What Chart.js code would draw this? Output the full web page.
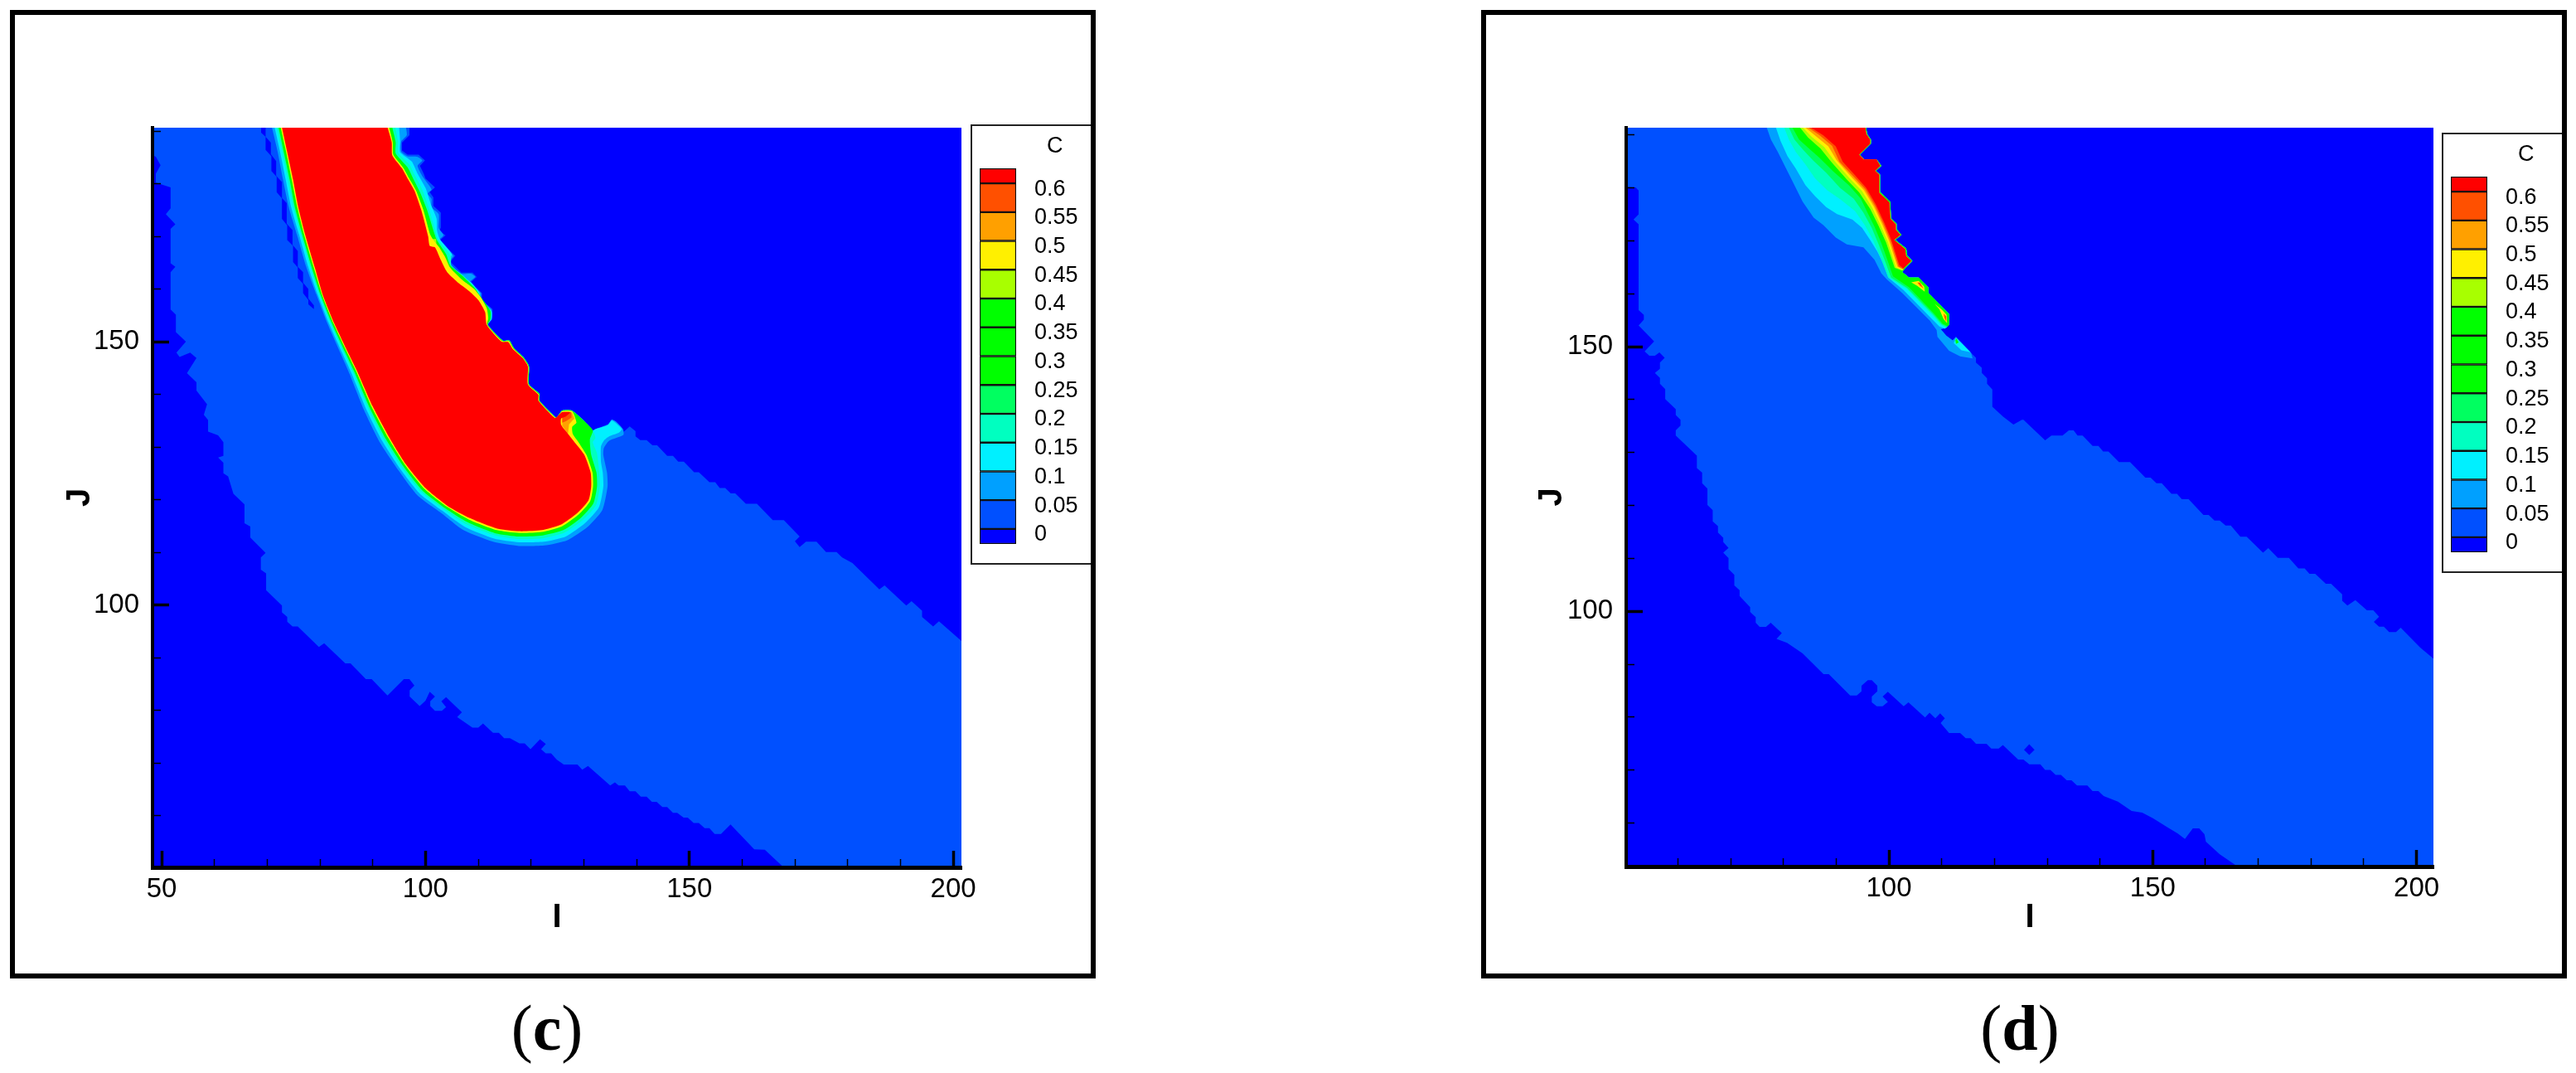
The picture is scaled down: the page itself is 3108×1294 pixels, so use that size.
<!DOCTYPE html>
<html lang="en">

<head>
    <meta charset="UTF-8">
    <title>Contours of C</title>
    <script src="https://cdn.jsdelivr.net/npm/chart.js@4/dist/chart.umd.min.js"></script>
    <style>
        body { margin: 0; background: #fff; width: 3108px; height: 1294px; position: relative; overflow: hidden; }
        canvas { position: absolute; left: 0; top: 0; }
        .frame { position: absolute; top: 12px; width: 1310px; height: 1168px; box-sizing: border-box; border: 6px solid #000; }
        .legendBox { position: absolute; width: 150px; height: 531px; box-sizing: border-box; border: 2px solid #222; background: #fff; }
        .legendName { position: absolute; left: 90px; top: 8px; font: 27px "Liberation Sans"; }
        .caption { position: absolute; top: 1195px; width: 200px; text-align: center; font: 78px "Liberation Serif"; }
    </style>
</head>

<body>
    <canvas id="plotC" width="1200" height="1200"></canvas>
    <canvas id="plotD" width="1200" height="1200" style="left:1776px"></canvas>
    <div class="legendBox" style="left:1171px;top:150px"><canvas id="legendC" width="146" height="527"></canvas><div class="legendName">C</div></div>
    <div class="legendBox" style="left:2946px;top:160px"><canvas id="legendD" width="146" height="527"></canvas><div class="legendName">C</div></div>
    <div class="frame" style="left:12px"></div>
    <div class="frame" style="left:1787px"></div>
    <div class="caption" style="left:560px">(<b>c</b>)</div>
    <div class="caption" style="left:2337px">(<b>d</b>)</div>

    <script>
        // colour key
        const levelTicks = [0, 0.05, 0.1, 0.15, 0.2, 0.25, 0.3, 0.35, 0.4, 0.45, 0.5, 0.55, 0.6]
        const bandEdges = [-0.026, 0, 0.05, 0.1, 0.15, 0.2, 0.25, 0.3, 0.35, 0.4, 0.45, 0.5, 0.55, 0.6, 0.626]
        const bandColors = ['#0000ff', '#0050ff', '#00a0ff', '#00f0ff', '#00ffc0', '#00ff60', '#00ff00', '#00ff00', '#00ff00', '#a8ff00', '#fff000', '#ffa000', '#ff5000', '#ff0000']

        // axis ticks
        const iMajorC = [50, 100, 150, 200]
        const iMajorD = [100, 150, 200]
        const iMinor = [60, 70, 80, 90, 110, 120, 130, 140, 160, 170, 180, 190]
        const jMajor = [100, 150]
        const jMinor = [60, 70, 80, 90, 110, 120, 130, 140, 160, 170, 180, 190]

        // panel (c), contour outlines as [I, J]
        const cStep = [[131.7, 133.15], [129.6, 135.35], [127.75, 136.9], [125.9, 136.9], [125.1, 135.9], [124.7, 135.6], [121.6, 138.8], [121.6, 140.1], [119.6, 141.9], [119.6, 145.3], [118.6, 147], [116.75, 148.8], [115.9, 150.2], [114.65, 150.2], [111.8, 153.2]]
        const c00 = [[40, 40], [210, 40], [210, 200], [40, 200]]
        const c05 = [[48, 190.7], [48, 185.5], [48.9, 185.1], [49.8, 183.5], [48.9, 181.9], [48.9, 180.2], [51.7, 179.3], [51.7, 175.3], [50.8, 174.2], [52.6, 172.3], [51.7, 171.4], [51.7, 164.9], [52.6, 164.2], [51.7, 163.2], [51.7, 156.1], [52.7, 155.1], [52.7, 151.8], [54.6, 150], [52.8, 147.9], [53.4, 147.1], [55.4, 147.9], [56.6, 146.9], [54.8, 144], [56.6, 142.3], [56.6, 140.7], [58.6, 138.1], [58, 136.1], [58.8, 135.1], [58.8, 132.9], [60.7, 132.2], [61.7, 130.9], [61.7, 128.3], [60.7, 128], [61.7, 127], [61.7, 125], [62.6, 124.4], [63.6, 121.1], [65.7, 119.1], [65.7, 115.5], [66.8, 114.9], [66.8, 112.8],
            [69.7, 109.9], [68.8, 109], [68.8, 106.7], [69.8, 106], [69.8, 102.8], [72.8, 99.9], [72.8, 98.6], [73.8, 97.7], [73.8, 96.8], [74.8, 95.9], [75.8, 95.9], [79.8, 92], [80.8, 92.7], [84.8, 88.9], [85.8, 88.9], [88.7, 85.9], [89.8, 85.9], [92.8, 82.8], [95.9, 85.9], [96.96, 85.9], [97.9, 84.7], [97, 83.8], [97, 82.6], [98.9, 80.8], [100, 81.8], [100.8, 83.5], [101.8, 82.6], [100.9, 81.7], [100.9, 80.8], [101.8, 79.9], [103.1, 79.9], [103.9, 80.6], [103, 81.7], [103.9, 82.5], [106.9, 79.6], [106, 78.7], [108.9, 76.7], [110, 76.7], [110.9, 77.5], [112.8, 75.7], [113.9, 75.7], [114.9, 74.7], [116, 74.7], [117.8, 73.7], [118.8, 73.7], [119.9, 72.6], [121.7, 74.5], [122.8, 73.6], [121.9, 72.6], [122.8, 71.8], [123.8, 71.8], [124.9, 70.6], [126.2, 69.7],
            [128.8, 69.7], [129.7, 68.7], [130.8, 69.4], [135, 65.7], [135.9, 66.3], [136.6, 65.7], [137.8, 65.7], [138.7, 64.6], [139.8, 64.6], [140.8, 63.6], [141.9, 63.6], [142.9, 62.6], [143.8, 62.6], [144.9, 61.6], [145.8, 61.6], [146.9, 60.5], [147.7, 60.5], [148.9, 59.6], [149.7, 59.6], [150.8, 58.6], [151.8, 58.6], [152.9, 57.6], [153.8, 57.6], [154.8, 56.5], [156, 56.5], [157.8, 58.3], [162.3, 53.6], [164.3, 53.5], [167.7, 50.3], [168, 49], [205, 49], [205, 90],
            [201.6, 93.1], [197.3, 96.9], [196.2, 95.9], [194.1, 97.7], [194.1, 98.9], [192.1, 100.7], [191.1, 99.9], [187, 103.7], [186, 102.96], [180.9, 107.95], [178.95, 109], [177.9, 110.05], [175.9, 110.05], [174.1, 112], [172.1, 112], [170.9, 111], [170, 112.1], [170.9, 113], [167.9, 116.1], [165.8, 116.1], [162.8, 119.2], [160.7, 119.2], [158.7, 121.2], [157.85, 121.2], [156.8, 122.2], [155.75, 122.2], [154.9, 123.3], [153.8, 123.3], [151.8, 125.2], [150.9, 125.2], [148.95, 127.2], [147.9, 127.2], [146.9, 128.3], [145.8, 128.3], [143.9, 130.3], [143, 130.3], [141.9, 131.3], [140.7, 131.3], [139.8, 132], [139.8, 133], [138.7, 133.9], [137.6, 132.9], [137.5, 133.3], [136.1, 134.8], [135.3, 135.2], [134.6, 134.3], [132.5, 133.5],
            ...cStep,
            [112.7, 154.3], [112.7, 156.2], [110.7, 157.9], [110.7, 159.2], [108.6, 161.3], [109.7, 162.3], [108.9, 163.1], [106.8, 163.1], [104.7, 165.2], [105.65, 166.3], [102.7, 169.2], [103.8, 170.2], [102.6, 171.05], [102.9, 171.6], [102.9, 174.5], [101.5, 175.8], [101.5, 177.4], [100.8, 178.4], [101.8, 179.3], [100, 181], [99.7, 181.8], [98.95, 183.4], [99.9, 184.4], [98.7, 185.5], [96.6, 185.5], [95.55, 186.3], [95.55, 187.8], [96.96, 189.2], [96.96, 190.7]]
        const cStrip = [[68.85, 190.7], [68.85, 189.7], [69.7, 188.9], [69.7, 186.4], [70.8, 185.2], [70.8, 182.4], [71.8, 181.3], [71.8, 178.4], [72.8, 177.2], [72.8, 173.3], [73.8, 172.1], [73.8, 169.3], [74.9, 168.2], [74.9, 165.1], [75.8, 164.1], [75.8, 162.1], [76.8, 161], [76.8, 159.2], [77.8, 157.9], [77.8, 157.1], [78.85, 156.2], [78.85, 156.9], [77.8, 158.2], [77.8, 160], [76.8, 161.2], [76.8, 163.2], [75.8, 164.2], [75.8, 167.2], [74.8, 168.4], [74.8, 171.2], [73.7, 172.4], [73.7, 176.3], [72.8, 177.3], [72.8, 180.3], [71.7, 181.5], [71.7, 184.3], [70.7, 185.6], [70.7, 187.8], [69.7, 188.9], [69.7, 190.7]]
        const c10 = [[70.9, 190.7], [72, 186], [73, 180.8], [74.1, 175.5], [75.65, 170.3], [77.4, 164.2], [79.3, 159], [81.4, 153.5], [83.9, 147.8], [85.6, 143.9], [88.4, 136.9], [91.4, 130.8], [95, 125.4], [98.5, 120.8], [102.8, 117.6], [107.2, 114.2], [112.8, 112], [117.7, 111.2], [122.5, 111.3], [126.9, 112.3], [130.7, 114.8], [133.5, 118], [134.5, 122.5], [134.4, 125.1], [133.7, 128.5], [133.8, 129.8], [134.8, 131.2], [137.5, 132.3], [137.4, 133.4], [136.1, 134.8], [135.3, 135.2], [134.6, 134.3], [132.5, 133.5],
            ...cStep,
            [112.5, 154.25], [112.5, 156.1], [110.5, 157.9], [110.5, 159.2], [108.4, 161.3], [109.4, 162.3], [108.6, 162.9], [106.7, 162.9], [104.45, 165.2], [105.3, 166.3], [102.5, 169.2], [103.4, 170.2], [102.5, 171.6], [102.5, 174.2], [101.15, 175.5], [101.15, 177.1], [100.4, 178.1], [101.15, 178.9], [99.5, 181.3], [98.5, 183.4], [99.4, 184.4], [98.4, 185.1], [96.6, 185.2], [95.4, 186.1], [95.4, 188], [96.45, 189.2], [96.3, 190.7]]
        const c15 = [[71.4, 190.7], [72.45, 186], [73.5, 180.8], [74.55, 175.5], [76.05, 170.3], [77.8, 164.15], [79.6, 158.9], [81.7, 153.5], [84.2, 147.9], [85.95, 144.05], [88.8, 137.1], [91.85, 131.05], [95.3, 125.7], [98.9, 121.15], [103.15, 117.9], [107.5, 114.8], [113, 112.6], [117.7, 111.9], [122.4, 112], [126.6, 113], [130.2, 115.5], [132.85, 118.5], [133.7, 122.5], [133.6, 125.1], [133.25, 127.2], [133.25, 130.1], [133.8, 131.2], [134.8, 132], [136.65, 132.7], [137.2, 133.4], [136.1, 134.5], [135.3, 135], [134.55, 134.15], [132.2, 133.4],
            ...cStep,
            [112.5, 154.25], [112.5, 155.8], [110.5, 157.7], [110.2, 159.3], [108.6, 161.3], [106.8, 162.65], [104.3, 165], [105, 166.6], [102.7, 169.5], [102.2, 171.05], [102.1, 173.4], [101.05, 176], [100, 179.2], [98.4, 182.1], [97.4, 184.2], [95.2, 186], [95.2, 188.1], [95, 190.7]]
        const c20 = [[71.8, 190.7], [72.85, 186], [73.9, 180.8], [74.95, 175.5], [76.4, 170.3], [78.2, 164.1], [79.9, 158.85], [82, 153.5], [84.5, 148], [86.25, 144.2], [89.15, 137.3], [92.25, 131.2], [95.6, 126], [99.2, 121.45], [103.45, 118.15], [107.75, 115.3], [113.2, 113.2], [117.75, 112.5], [122.25, 112.65], [126.3, 113.7], [129.8, 116.1], [132.3, 118.9], [133.05, 122.5], [132.95, 125.1], [132.5, 128.8], [131.7, 130.9], [132.2, 131.7],
            ...cStep,
            [112.4, 154.25], [112.4, 155.8], [110.6, 158], [109.6, 160], [107.3, 162.4], [104.9, 164.4], [104.8, 166.3], [102.45, 169.3], [101.9, 171], [101.2, 173.4], [100.6, 175.5], [99.4, 178.9], [98, 181.6], [97, 183.6], [94.8, 185.9], [94.8, 188], [94.3, 190.7]]
        const c30 = [[72.15, 190.7], [73.15, 186], [74.25, 180.8], [75.25, 175.5], [76.65, 170.3], [78.45, 164.05], [80.15, 158.8], [82.25, 153.5], [84.75, 148.05], [86.5, 144.3], [89.45, 137.4], [92.55, 131.4], [95.85, 126.25], [99.45, 121.7], [103.7, 118.4], [108, 115.7], [113.3, 113.6], [117.75, 113], [122.2, 113.2], [126.1, 114.2], [129.45, 116.55], [131.8, 119.25], [132.5, 122.5], [132.4, 125.1], [131.4, 128.5], [131.15, 131.4],
            ...cStep,
            [112.3, 154.25], [112.3, 155.8], [110.7, 158.2], [109.2, 160.3], [106.8, 162.65], [104.7, 164.5], [103.9, 166.6], [102.2, 169.2], [101.6, 170.8], [100.3, 175], [98.95, 178.4], [97.65, 181], [96.6, 183.1], [94.35, 185.75], [94.35, 187.85], [93.7, 190.7]]
        const c45 = [[100.8, 169.5], [102, 169.5], [102.1, 168], [100.8, 168]]
        const c50 = [[72.55, 190.7], [73.6, 186], [74.65, 180.8], [75.7, 175.5], [77, 170.3], [78.85, 164], [80.45, 158.75], [82.55, 153.5], [85.05, 148.15], [86.85, 144.4], [89.8, 137.6], [93, 131.6], [96.15, 126.55], [99.8, 122.05], [104.05, 118.65], [108.25, 116.2], [113.5, 114.2], [117.8, 113.65], [122.05, 113.85], [125.8, 114.9], [129.05, 117.2], [131.2, 119.7], [131.75, 122.5], [131.65, 125.1], [130.5, 128.5], [128.8, 131.2], [127.9, 132.5], [127.8, 133.8], [128.6, 134.6], [128.2, 136], [127.75, 136.8], [125.9, 136.8], [125.1, 135.8], [124.7, 135.5], [121.5, 138.8], [121.5, 140], [119.5, 141.9], [119.5, 145.3], [118.5, 146.9], [116.65, 148.7], [115.8, 150.1], [114.55, 150.1], [111.7, 153.2], [111.9, 154.5], [111.6, 156.35], [110.5, 158.4], [109.2, 160], [107.1, 161.6], [104.7, 164], [103.7, 166.1], [102.6, 167.9], [101.7, 169], [100.9, 170.3], [99.6, 175], [98.2, 178.7], [96.85, 181.1], [95.8, 183], [93.9, 185.5], [93.8, 187.85], [93.1, 190.7]]
        const c55 = [[126, 136.5], [127.75, 136.5], [128.2, 135.4], [127.2, 134.3], [127, 132.5], [125.9, 134]]
        const c60 = [[125.9, 136.6], [127.6, 136.6], [127.7, 135.6], [126.6, 134.9], [125.9, 134.6]]
        const cRed = [[72.8, 190.7], [73.8, 186], [74.9, 180.8], [75.9, 175.5], [77.2, 170.3], [79.05, 164], [80.6, 158.7], [82.7, 153.5], [85.2, 148.2], [87, 144.5], [90, 137.7], [93.2, 131.7], [96.3, 126.7], [100, 122.2], [104.2, 118.8], [108.4, 116.5], [113.6, 114.5], [117.8, 114], [122, 114.2], [125.65, 115.25], [128.8, 117.5], [130.9, 119.9], [131.4, 122.5], [131.3, 125.1], [130.1, 128.5], [128.5, 130.6], [127, 132.5], [125.7, 134.2], [125.7, 135.4], [126.6, 135.8], [127.4, 136.6], [125.9, 136.6], [125, 135.8], [124.5, 135.5], [121.4, 138.8], [121.4, 139.9], [119.4, 141.9], [119.4, 145.3], [118.4, 146.9], [116.55, 148.6], [115.7, 149.9], [114.4, 150], [111.6, 153.2], [111.3, 155.6], [110, 157.9], [108.4, 159.5], [106.3, 161.1], [104.1, 163.2], [102.9, 165.5], [101.8, 167.9], [100.8, 168.2], [100.5, 170], [99.2, 175], [97.9, 178.7], [96.6, 181], [95.55, 182.9], [93.7, 185.4], [93.6, 187.85], [92.8, 190.7]]

        // panel (d), contour outlines as [I, J]
        const dEdge = [[111.4, 154.18], [111.4, 156.16], [107.47, 160.17], [107.47, 161.22], [105.64, 163.04], [103.81, 163.04], [102.5, 164.09], [103.13, 164.87], [104.44, 166.17], [103.44, 167.22], [103.28, 168.52], [101.19, 170.19], [102.39, 171.13], [101.45, 172.17], [101.45, 173.22], [100.4, 174.26], [100.25, 177.39], [98.31, 179.21], [98.31, 182.5], [97.52, 183.23], [98.57, 184.17], [97.79, 185.21], [95.43, 185.21], [94.49, 186.26], [96.58, 188.34], [96.58, 189.13], [95.85, 190.17], [95.69, 191.4]]
        const dWedge = [[115.59, 148.8], [113.49, 151.04], [112.71, 151.83], [112.08, 151.2], [110.87, 152.09], [109.83, 153.29], [110.62, 153.5]]
        const dRedRight = [[102.76, 164.76], [103.02, 165.03], [104.23, 166.17], [103.23, 167.11], [103.07, 168.42], [100.98, 170.19], [102.18, 171.13], [101.3, 172.07], [101.3, 173.11], [100.25, 174.15], [100.09, 177.23], [98.15, 179.06], [98.15, 182.5], [97.37, 183.23], [98.36, 184.17], [97.63, 185.37], [95.27, 185.37], [94.33, 186.26], [96.42, 188.34], [96.42, 189.13], [95.69, 190.17], [95.53, 191.4]]
        const d00 = [[40, 40], [210, 40], [210, 200], [40, 200]]
        const d05 = [[49, 191.4], [49, 180.2], [51.98, 180.1], [52.56, 179.5], [52.56, 175], [51.6, 174], [52.56, 173.1], [52.56, 156.9], [53.55, 156], [53.55, 155.1], [52.56, 154], [55.5, 151], [53.7, 149.1], [54.6, 148.3], [55.65, 148.3], [56.5, 148.9], [57.5, 147.9], [56.6, 147], [56.6, 145.8], [55.65, 145.05], [56.6, 144.1], [56.6, 143], [57.6, 142], [57.6, 140.1], [59.6, 138.2], [59.6, 137.1], [60.5, 136.2], [60.5, 135.1], [59.6, 134.2], [59.6, 133.2], [63.6, 129.4], [63.6, 127.05], [64.6, 126.2], [64.6, 124.2], [65.6, 123.2], [65.6, 120.1], [66.6, 119.1], [66.6, 117],
            [67.6, 116.1], [67.6, 114.9], [68.6, 113.9], [68.6, 113.1], [69.6, 112], [68.6, 111.1], [69.6, 110.06], [69.6, 108], [70.7, 106.9], [70.7, 104.9], [71.7, 104], [71.7, 102.9], [73.7, 100.8], [73.7, 99.9], [74.75, 98.9], [74.75, 97.85], [75.5, 97.07], [76.7, 97.07], [77.6, 97.85], [79.7, 95.9], [78.7, 94.8], [80.7, 94.05], [83.65, 92.06], [87.6, 88.15], [88.6, 88.15], [92.65, 84.1], [93.9, 84.1], [94.8, 84.9], [94.8, 85.96], [96, 87], [96.75, 87], [97.8, 85.96], [97.8, 84.9], [96.75, 83.9], [96.75, 82.8], [97.7, 82.05], [98.8, 82.05], [99.8, 82.9], [98.8, 83.9], [99.8, 84.8], [102.8, 82.05], [103.7, 82.8], [106.85, 79.96], [107.7, 80.85], [108.8, 79.8], [109.7, 80.75], [110.6, 79.8], [109.8, 78.9], [111.4, 77], [113.5, 77], [114.55, 76.05], [115.5, 76.05], [116.5, 75], [118.5, 75], [119.4, 74.1], [120.8, 74.1], [121.6, 74.75],
            [124.5, 72], [125.5, 72], [126.6, 71.1], [128.7, 71.1], [129.6, 70.06], [130.6, 70.06], [131.6, 69.1], [132.6, 69.1], [133.7, 68.1], [134.6, 68.1], [135.65, 67.1], [137.6, 67.1], [138.6, 66.05], [139.7, 66.05], [140.7, 65.1], [143.4, 64.05], [146, 62.3], [148, 62], [150.1, 60.9], [152.8, 59.2], [154.7, 58.06], [156.1, 57], [157.6, 59], [158.8, 59], [159.8, 57.9], [160.07, 56.5], [162.7, 54.1], [165.8, 52], [166.5, 51], [205, 51], [205, 90],
            [203.3, 91], [200.7, 93.17], [197, 96.9], [196.1, 96.1], [194.8, 96.1], [193.8, 97.1], [192.9, 97.1], [191.9, 98], [192.9, 99], [191.8, 100.2], [190.6, 100.2], [188.4, 102.1], [186.9, 101.1], [185.9, 102], [185.9, 103.2], [183.8, 105.2], [182.8, 105.2], [180.8, 107.1], [179.7, 107.1], [178.8, 108.1], [177.6, 108.1], [175.8, 110.1], [173.7, 110.1], [171.9, 111.95], [170.9, 111.1], [167.8, 114.1], [166.6, 114.1], [164.8, 116.2], [163.8, 116.2], [162.7, 117.15], [161.7, 117.15], [160.6, 118.2], [159.6, 118.2], [156.8, 121.2], [155.5, 121.2], [154.6, 122.2], [153.55, 122.2], [151.7, 124.2], [150.7, 124.2], [149.6, 125.25], [148.6, 125.25], [145.7, 128.2], [143.6, 128.2], [141.6, 130.2], [140.6, 130.2], [139.7, 131.25], [138.6, 131.25], [136.7, 133.2], [135.75, 133.2], [135, 134.2], [134.1, 134.2], [132.9, 133.2], [130.8, 133.2], [129.6, 132.3], [125.5, 136.2], [125.2, 136.2], [123.6, 135.3], [121.6, 136.8], [119.6, 138.65], [119.6, 141.9], [118.6, 143], [118.6, 144], [117.6, 145.05], [117.6, 146], [116.5, 147], [116.5, 147.9],
            ...dWedge, ...dEdge]
        const dDiamond = [[125.6, 73.85], [126.6, 74.9], [127.6, 73.85], [126.6, 72.85]]
        const d10 = [[76.84, 191.4], [77.63, 189.13], [78.94, 186.78], [80.51, 183.65], [81.56, 181.56], [83.65, 177.39], [85.74, 174.36], [87.58, 172.96], [89.93, 170.61], [92.03, 169.3], [95.17, 168.78], [97.26, 166.43], [98.57, 163.83], [99.62, 162.68], [102.5, 160.17], [107.73, 154.96], [109.04, 153.13], [109.2, 151.83], [111.4, 149.22], [113.5, 148.17], [115.85, 147.76], ...dWedge, ...dEdge]
        const d15 = [[78.57, 191.4], [79.46, 188.87], [80.77, 186], [82.34, 183.65], [84.17, 180.52], [85.99, 178.43], [88.1, 176.35], [90.19, 175.04], [93.07, 174], [94.91, 172.43], [96.48, 170.09], [97.79, 168], [99.1, 165.39], [99.88, 163.04], [102.76, 160.7], [108, 155.38], [109.57, 153.81], [110.62, 153.39], ...dEdge]
        const dBlobCyan = [[112.29, 150.68], [112.71, 151.67], [115.48, 148.96], [113.76, 149.32]]
        const dBlobGreen = [[112.6, 151.2], [112.81, 151.52], [113.23, 150.78], [112.71, 150.52]]
        const d20 = [[80.14, 191.4], [81.03, 189.13], [82.34, 186.78], [84.17, 184.43], [85.99, 181.82], [88.36, 179.48], [90.82, 177.81], [93.6, 175.56], [95.43, 172.95], [97, 170.09], [98.57, 166.43], [99.88, 163.04], [103.28, 160.96], [108.26, 155.9], [109.83, 154.12], [110.88, 153.55], ...dEdge]
        const d25 = [[81.03, 191.4], [82.08, 189.13], [83.65, 187.3], [85.59, 185.21], [88.1, 182.87], [90.72, 180], [93.34, 177.91], [95.17, 175.3], [96.74, 172.43], [98.05, 169.3], [99.36, 165.91], [100.4, 163.04], [103.44, 161.11], [108.36, 156.1], [109.99, 154.23], [111.03, 153.71], ...dEdge]
        const d30 = [[81.71, 191.4], [82.97, 189.13], [84.7, 187.56], [86.79, 185.73], [89.41, 183.13], [92.39, 180.52], [94.64, 178.01], [95.95, 175.3], [97.26, 172.69], [98.57, 169.56], [99.88, 165.91], [100.77, 163.3], [103.81, 161.22], [108.52, 156.26], [110.2, 154.33], [111.14, 153.9], ...dEdge]
        const d45 = [[83.13, 191.4], [84.7, 189.49], [87.05, 187.4], [89.04, 184.95], [92.03, 181.56], [94.38, 179.11], [96.48, 175.98], [98.05, 172.8], [99.46, 169.67], [101.09, 164.87], [102.55, 164.35], ...dRedRight]
        const d50 = [[83.65, 191.4], [85.38, 189.65], [87.73, 187.72], [89.57, 185.21], [92.55, 181.82], [94.91, 179.37], [96.84, 176.24], [98.41, 172.95], [99.78, 169.82], [101.35, 164.97], [102.66, 164.45], ...dRedRight]
        const d55 = [[84.17, 191.4], [86.11, 189.8], [88.52, 187.82], [90.09, 185.21], [92.97, 181.98], [95.27, 179.58], [97.16, 176.45], [98.73, 173.11], [100.04, 169.98], [101.61, 165.13], [102.76, 164.56], ...dRedRight]
        const d60 = [[84.7, 191.4], [86.79, 190], [89.25, 187.93], [90.61, 184.95], [93.34, 182.08], [95.53, 179.74], [97.37, 176.6], [98.94, 173.22], [100.25, 170.08], [101.82, 165.13], [102.76, 164.6], ...dRedRight]
        const dRed = [[85.22, 191.4], [87.58, 189.91], [89.93, 187.82], [91.24, 184.95], [93.6, 182.34], [95.69, 180], [97.52, 176.87], [99.1, 173.48], [100.4, 170.35], [101.97, 165.39], ...dRedRight]
        const dTail50a = [[104.23, 162.16], [105.64, 162.42], [106.69, 161.32], [106.79, 160.38], [105.38, 161.48]]
        const dTail50b = [[108.68, 158.09], [110.09, 156.94], [110.93, 156], [111.03, 154.44], [110.35, 155.22], [109.57, 157.04]]
        const dTail60a = [[105.38, 162.1], [105.9, 162.1], [106.58, 160.96], [105.9, 161.48]]
        const dTail60b = [[110.35, 156.26], [110.87, 155.74], [110.87, 154.7], [110.51, 155.48]]

        const layersC = [[c00, '#0000ff'], [c05, '#0050ff'], [cStrip, '#0000ff'], [c10, '#00a0ff'], [c15, '#00f0ff'], [c20, '#00ffc0'], [c30, '#00ff00'], [c45, '#a8ff00'], [c50, '#fff000'], [c55, '#ffa000'], [c60, '#ff5000'], [cRed, '#ff0000']]
        const layersD = [[d00, '#0000ff'], [d05, '#0050ff'], [dDiamond, '#0000ff'], [d10, '#00a0ff'], [d15, '#00f0ff'], [dBlobCyan, '#00f0ff'], [dBlobGreen, '#00ff00'], [d20, '#00ffc0'], [d25, '#00ff60'], [d30, '#00ff00'], [d45, '#a8ff00'], [d50, '#fff000'], [d55, '#ffa000'], [d60, '#ff5000'], [dRed, '#ff0000'], [dTail50a, '#fff000'], [dTail50b, '#fff000'], [dTail60a, '#ff5000'], [dTail60b, '#ff5000']]
        // the plume in (c) has a smooth outline, the rest keeps its grid corners
        const smoothOutlines = [c10, c15, c20, c30, c50, cRed]

        const sans = 'Liberation Sans'

        function tickList(list) {
            return scale => { scale.ticks = list.map(value => ({ value })) }
        }

        function plot(id, layers, cfg) {
            // first dataset is painted last, so lowest contour gets the highest order
            const datasets = layers.map(([pts, color], i) => ({
                type: 'scatter',
                showLine: true,
                fill: 'shape',
                data: pts.map(([x, y]) => ({ x, y })),
                backgroundColor: color,
                borderWidth: 0,
                pointRadius: 0,
                tension: smoothOutlines.includes(pts) ? 0.2 : 0,
                order: layers.length - i
            }))
            new Chart(document.getElementById(id), {
                data: { datasets },
                options: {
                    responsive: false,
                    animation: false,
                    layout: { padding: { left: 0, top: 154, right: 40, bottom: 0 } },
                    plugins: { legend: { display: false }, tooltip: { enabled: false } },
                    scales: {
                        x: {
                            type: 'linear', position: 'bottom', min: cfg.iMin, max: cfg.iMax,
                            afterBuildTicks: tickList(cfg.iMajor),
                            afterFit: s => { s.height = cfg.xHeight; s.paddingLeft = 0; s.paddingRight = 0 },
                            ticks: { autoSkip: false, maxRotation: 0, padding: 27, color: '#000', font: { family: sans, size: 33 } },
                            grid: { z: 1, drawOnChartArea: false, tickLength: -20, tickWidth: 3.5, tickColor: '#000' },
                            border: { z: 1, color: '#000', width: 5 },
                            title: { display: true, text: 'I', color: '#000', font: { family: sans, size: 40, weight: 'bold' }, padding: { top: 0, bottom: 69 } }
                        },
                        xMinor: {
                            type: 'linear', position: 'bottom', weight: -1, min: cfg.iMin, max: cfg.iMax,
                            afterBuildTicks: tickList(iMinor),
                            afterFit: s => { s.height = 0 },
                            ticks: { display: false, autoSkip: false },
                            grid: { z: 1, drawOnChartArea: false, tickLength: -10, tickWidth: 1.5, tickColor: '#000' },
                            border: { display: false }
                        },
                        y: {
                            type: 'linear', position: 'left', min: cfg.jMin, max: cfg.jMax,
                            afterBuildTicks: tickList(jMajor),
                            afterFit: s => { s.width = cfg.yWidth },
                            ticks: { autoSkip: false, padding: 36, color: '#000', font: { family: sans, size: 33 } },
                            grid: { z: 1, drawOnChartArea: false, tickLength: -20, tickWidth: 3.5, tickColor: '#000' },
                            border: { z: 1, color: '#000', width: 4 },
                            title: { display: true, text: 'J', color: '#000', font: { family: sans, size: 40, weight: 'bold' }, padding: { top: 73, bottom: 0 } }
                        },
                        yMinor: {
                            type: 'linear', position: 'left', weight: -1, min: cfg.jMin, max: cfg.jMax,
                            afterBuildTicks: tickList(jMinor),
                            afterFit: s => { s.width = 0 },
                            ticks: { display: false, autoSkip: false },
                            grid: { z: 1, drawOnChartArea: false, tickLength: -10, tickWidth: 1.5, tickColor: '#000' },
                            border: { display: false }
                        }
                    }
                }
            })
        }

        function colourKey(id) {
            const datasets = bandColors.map((color, i) => ({
                data: [[bandEdges[i], bandEdges[i + 1]]],
                backgroundColor: color,
                borderColor: '#111',
                borderWidth: 1.5,
                borderSkipped: false,
                grouped: false,
                barPercentage: 1,
                categoryPercentage: 1
            }))
            new Chart(document.getElementById(id), {
                type: 'bar',
                data: { labels: ['C'], datasets },
                options: {
                    responsive: false,
                    animation: false,
                    layout: { padding: { left: 9, top: 51, right: 0, bottom: 23 } },
                    plugins: { legend: { display: false }, tooltip: { enabled: false } },
                    scales: {
                        x: { display: false },
                        y: {
                            position: 'right', min: bandEdges[0], max: bandEdges[bandEdges.length - 1],
                            afterBuildTicks: tickList(levelTicks),
                            afterFit: s => { s.width = 93; s.paddingTop = 0; s.paddingBottom = 0 },
                            ticks: {
                                autoSkip: false, padding: 22, labelOffset: 7, color: '#000',
                                font: { family: sans, size: 27 },
                                callback: v => String(v)
                            },
                            grid: { display: false, drawTicks: false },
                            border: { display: false }
                        }
                    }
                }
            })
        }

        plot('plotC', layersC, { iMin: 48.27, iMax: 201.56, jMin: 50.16, jMax: 190.63, iMajor: iMajorC, xHeight: 154, yWidth: 184 })
        plot('plotD', layersD, { iMin: 50.2, iMax: 203.2, jMin: 51.8, jMax: 191.36, iMajor: iMajorD, xHeight: 155, yWidth: 186 })
        colourKey('legendC')
        colourKey('legendD')
    </script>
</body>

</html>
